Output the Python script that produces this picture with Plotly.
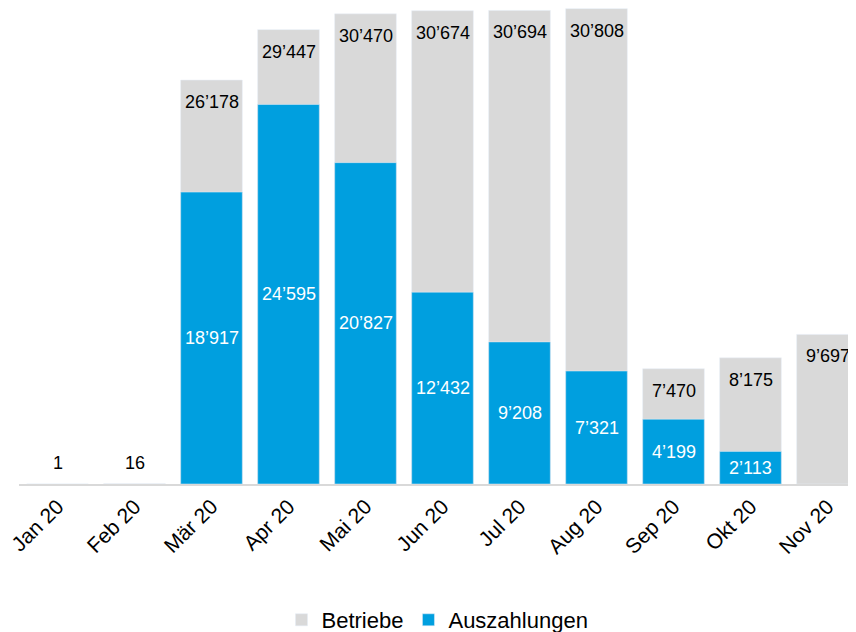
import plotly.graph_objects as go

months = ["Jan 20", "Feb 20", "Mär 20", "Apr 20", "Mai 20", "Jun 20",
          "Jul 20", "Aug 20", "Sep 20", "Okt 20", "Nov 20"]
betriebe = [1, 16, 26178, 29447, 30470, 30674, 30694, 30808, 7470, 8175, 9697]
auszahlungen = [None, None, 18917, 24595, 20827, 12432, 9208, 7321, 4199, 2113, None]

GRAY = "#D9D9D9"
BLUE = "#009FDF"
FONT = "Liberation Sans, Arial, sans-serif"


def fmt(v):
    return f"{v:,}".replace(",", "\u2019")


fig = go.Figure()
fig.add_trace(go.Bar(x=months, y=betriebe, name="Betriebe", marker_color=GRAY,
                     width=0.8, hoverinfo="x+y"))
fig.add_trace(go.Bar(x=months, y=auszahlungen, name="Auszahlungen", marker_color=BLUE,
                     width=0.8, hoverinfo="x+y"))

annotations = []
for m, v in zip(months, betriebe):
    small = v < 1000
    annotations.append(dict(x=m, y=v, text=fmt(v), showarrow=False,
                            xref="x", yref="y", yanchor="middle",
                            yshift=21 if small else -22,
                            font=dict(family=FONT, size=18, color="#000000")))
for m, v in zip(months, auszahlungen):
    if v is None:
        continue
    annotations.append(dict(x=m, y=v / 2, text=fmt(v), showarrow=False,
                            xref="x", yref="y", yanchor="middle",
                            font=dict(family=FONT, size=18, color="#FFFFFF")))

fig.update_layout(
    width=848, height=624,
    margin=dict(l=11, r=0, t=0, b=148, autoexpand=False),
    paper_bgcolor="white", plot_bgcolor="white",
    barmode="overlay",
    font=dict(family=FONT, size=18, color="#000000"),
    annotations=annotations,
    showlegend=True,
    legend=dict(orientation="h", x=0.5, xanchor="center", y=-0.2857, yanchor="middle",
                yref="paper", font=dict(family=FONT, size=22, color="#000000"),
                itemwidth=30, tracegroupgap=0),
    xaxis=dict(range=[-0.5, 10.37], tickangle=-45, showline=True, linecolor=GRAY,
               linewidth=2, ticks="", showgrid=False, zeroline=False, automargin=False,
               tickfont=dict(family=FONT, size=21, color="#000000")),
    yaxis=dict(range=[0, 30850], visible=False, showgrid=False, zeroline=False,
               automargin=False),
)

fig.write_html("out.html")
